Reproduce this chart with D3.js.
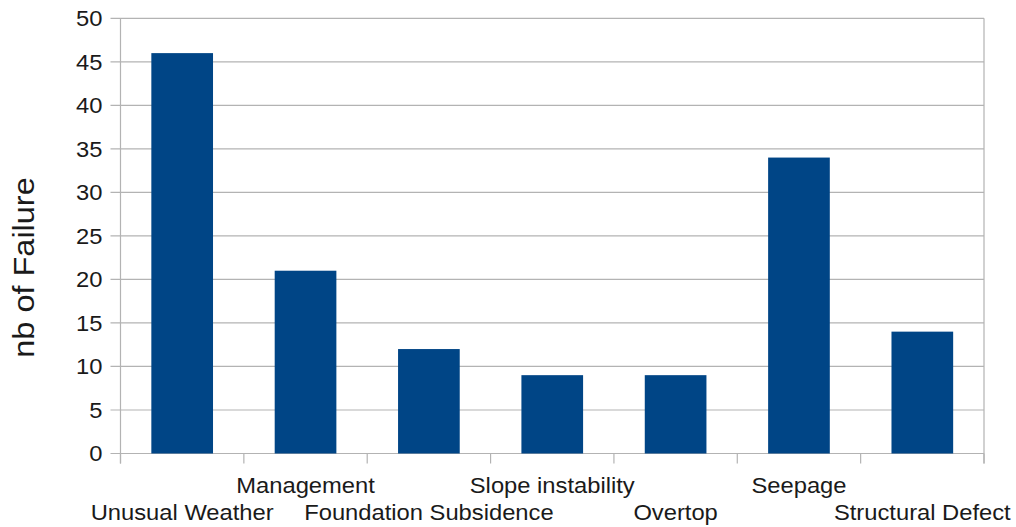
<!DOCTYPE html>
<html>
<head>
<meta charset="utf-8">
<script src="https://cdn.jsdelivr.net/npm/d3@7"></script>
<style>
  html, body { margin: 0; padding: 0; background: #fff; }
  svg { display: block; font-family: "Liberation Sans", Arial, sans-serif; }
</style>
</head>
<body>
<svg id="chart" width="1016" height="527"></svg>
<script>
// Dam failure counts by cause
const categories = ["Unusual Weather", "Management", "Foundation Subsidence", "Slope instability", "Overtop", "Seepage", "Structural Defect"];
const failures = [46, 21, 12, 9, 9, 34, 14];
const yTicks = [0, 5, 10, 15, 20, 25, 30, 35, 40, 45, 50];
const yLabel = "nb of Failure";

const svg = d3.select("#chart");
const W = 1016, H = 527;
const margin = { left: 120.5, right: W - 984, top: 18.3, bottom: H - 453.5 };

const x = d3.scaleBand()
  .domain(categories)
  .range([margin.left, W - margin.right])
  .paddingInner(0.5)
  .paddingOuter(0.25);

const y = d3.scaleLinear()
  .domain([0, 50])
  .range([H - margin.bottom, margin.top]);

const textColor = "#1a1a1a";
const gridColor = "#b3b3b3";
const stretch = 1.08; // slightly wide glyph rendering

// horizontal gridlines
svg.append("g")
  .selectAll("line")
  .data(yTicks)
  .join("line")
  .attr("x1", margin.left - 10)
  .attr("x2", W - margin.right)
  .attr("y1", d => y(d))
  .attr("y2", d => y(d))
  .attr("stroke", gridColor)
  .attr("stroke-width", 1.2);

// vertical frame lines
[margin.left, W - margin.right].forEach(xx => {
  svg.append("line")
    .attr("x1", xx).attr("x2", xx)
    .attr("y1", margin.top).attr("y2", y(0) + 10)
    .attr("stroke", gridColor).attr("stroke-width", 1.2);
});

// category boundary ticks
const step = x.step();
const bounds = d3.range(categories.length + 1).map(i => margin.left + i * step);
svg.append("g")
  .selectAll("line")
  .data(bounds)
  .join("line")
  .attr("x1", d => d).attr("x2", d => d)
  .attr("y1", y(0)).attr("y2", y(0) + 10)
  .attr("stroke", gridColor).attr("stroke-width", 1.2);

// bars
svg.append("g")
  .selectAll("rect")
  .data(failures)
  .join("rect")
  .attr("x", (d, i) => x(categories[i]))
  .attr("y", d => y(d))
  .attr("width", x.bandwidth())
  .attr("height", d => y(0) - y(d))
  .attr("fill", "#004586");

// y tick labels
svg.append("g")
  .selectAll("text")
  .data(yTicks)
  .join("text")
  .attr("transform", d => `translate(102.5, ${y(d)}) scale(${stretch}, 1)`)
  .attr("dy", "0.36em")
  .attr("text-anchor", "end")
  .attr("font-size", 22)
  .attr("fill", textColor)
  .text(d => d);

// category labels, staggered on two rows
svg.append("g")
  .selectAll("text")
  .data(categories)
  .join("text")
  .attr("transform", (d, i) => `translate(${x(d) + x.bandwidth() / 2}, ${i % 2 === 0 ? 520 : 492.5}) scale(${stretch}, 1)`)
  .attr("text-anchor", "middle")
  .attr("font-size", 22)
  .attr("fill", textColor)
  .text(d => d);

// y-axis title
svg.append("text")
  .attr("transform", `translate(33.5, 267.5) rotate(-90) scale(1.12, 1)`)
  .attr("text-anchor", "middle")
  .attr("font-size", 29)
  .attr("fill", textColor)
  .text(yLabel);
</script>
</body>
</html>
